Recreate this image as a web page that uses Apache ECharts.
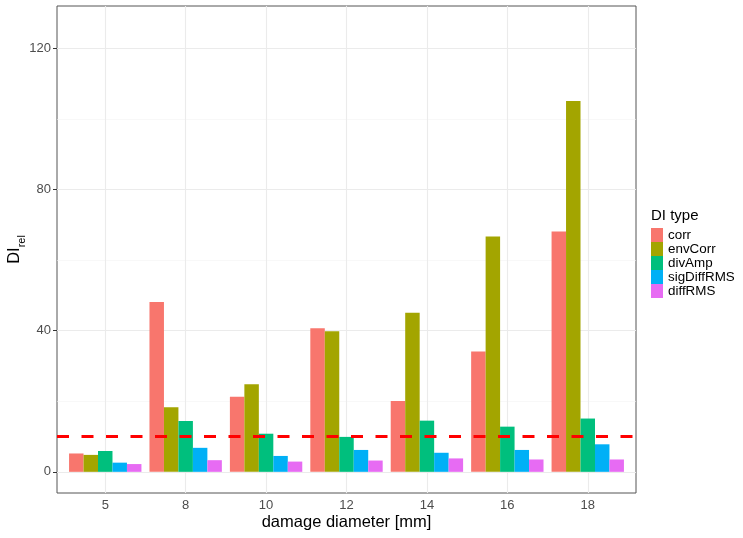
<!DOCTYPE html>
<html>
<head>
<meta charset="utf-8">
<script src="https://cdn.jsdelivr.net/npm/echarts@6/dist/echarts.min.js"></script>
<style>html,body{margin:0;padding:0;background:#fff}#c{width:743px;height:538px}</style>
</head>
<body>
<div id="c"></div>
<script>
const categories = ['5', '8', '10', '12', '14', '16', '18'];
const seriesNames = ['corr', 'envCorr', 'divAmp', 'sigDiffRMS', 'diffRMS'];
const corr       = [5.2, 48.1, 21.3, 40.7, 20.1, 34.1, 68.1];
const envCorr    = [4.8, 18.3, 24.8, 39.8, 45.1, 66.7, 105.1];
const divAmp     = [5.9, 14.4, 10.8, 9.9, 14.5, 12.8, 15.1];
const sigDiffRMS = [2.6, 6.8, 4.5, 6.2, 5.4, 6.2, 7.8];
const diffRMS    = [2.2, 3.3, 2.9, 3.2, 3.8, 3.5, 3.5];
const threshold = 10;
const yTicks = [0, 40, 80, 120];
const yMinor = [20, 60, 100];
const colors = ['#F8766D', '#A3A500', '#00BF7D', '#00B0F6', '#E76BF3'];

const values = [corr, envCorr, divAmp, sigDiffRMS, diffRMS];
const xPos = categories.map((c, i) => i + 1);

const font = 'Liberation Sans, Arial, sans-serif';

const barSeries = seriesNames.map((n, k) => ({
  name: n,
  type: 'bar',
  data: values[k].map((v, i) => [xPos[i], v]),
  barWidth: '18%',
  barGap: '0%',
  itemStyle: { color: colors[k] },
  z: 2,
  silent: true
}));

const gridSeries = {
  name: '_grid',
  type: 'line',
  data: [],
  silent: true,
  markLine: {
    silent: true,
    symbol: 'none',
    z: 1,
    label: { show: false },
    animation: false,
    data: [
      ...yTicks.map(v => ({ yAxis: v, lineStyle: { color: '#ebebeb', width: 1.1, type: 'solid' } })),
      ...yMinor.map(v => ({ yAxis: v, lineStyle: { color: '#f3f3f3', width: 0.6, type: 'solid' } })),
      ...xPos.map(v => ({ xAxis: v, lineStyle: { color: '#ebebeb', width: 1.1, type: 'solid' } }))
    ]
  }
};

const thresholdSeries = {
  name: '_thr',
  type: 'line',
  data: [],
  silent: true,
  markLine: {
    silent: true,
    symbol: 'none',
    z: 10,
    label: { show: false },
    animation: false,
    data: [{ yAxis: threshold, lineStyle: { color: '#FF0000', width: 3, type: [12, 12.5] } }]
  }
};

const option = {
  animation: false,
  textStyle: { fontFamily: font },
  grid: {
    left: 57, right: 107, top: 6, bottom: 45,
    containLabel: false,
    outerBoundsMode: 'none',
    show: true, borderColor: '#555', borderWidth: 1, backgroundColor: 'transparent'
  },
  title: {
    text: 'DI type',
    left: 651, top: 208,
    textStyle: { fontSize: 15, fontWeight: 'normal', color: '#000', fontFamily: font },
    padding: 0
  },
  legend: {
    data: seriesNames,
    orient: 'vertical',
    left: 651, top: 228,
    itemWidth: 12, itemHeight: 14, itemGap: 0,
    icon: 'rect',
    padding: 0,
    textStyle: { fontSize: 13.4, color: '#000', fontFamily: font, padding: [0, 0, 0, 0] },
    selectedMode: false
  },
  xAxis: {
    type: 'value',
    min: 0.4, max: 7.6,
    name: 'damage diameter [mm]',
    nameLocation: 'middle',
    nameGap: 21,
    nameMoveOverlap: false,
    nameTextStyle: { fontSize: 16.5, color: '#000', fontFamily: font },
    axisLine: { show: false },
    axisTick: { show: true, customValues: xPos, length: 4, lineStyle: { color: '#333' } },
    axisLabel: {
      customValues: xPos,
      formatter: v => categories[Math.round(v) - 1],
      fontSize: 13, color: '#4d4d4d', margin: 6, fontFamily: font
    },
    splitLine: { show: false }
  },
  yAxis: {
    type: 'value',
    min: -6, max: 132,
    name: '{a|DI}{b|rel}',
    nameLocation: 'middle',
    nameRotate: 90,
    nameGap: 34,
    nameMoveOverlap: false,
    nameTextStyle: {
      fontFamily: font,
      rich: {
        a: { fontSize: 16.5, color: '#000', fontFamily: font, lineHeight: 20, verticalAlign: 'bottom' },
        b: { fontSize: 11, color: '#000', fontFamily: font, verticalAlign: 'bottom', padding: [0, 0, -4, 0] }
      }
    },
    axisLine: { show: false },
    axisTick: { show: true, customValues: yTicks, length: 4, lineStyle: { color: '#333' } },
    axisLabel: { customValues: yTicks, fontSize: 13, color: '#4d4d4d', margin: 6, fontFamily: font },
    splitLine: { show: false }
  },
  series: [gridSeries, ...barSeries, thresholdSeries]
};

const chart = echarts.init(document.getElementById('c'), null, { renderer: 'canvas' });
chart.setOption(option);
</script>
</body>
</html>
